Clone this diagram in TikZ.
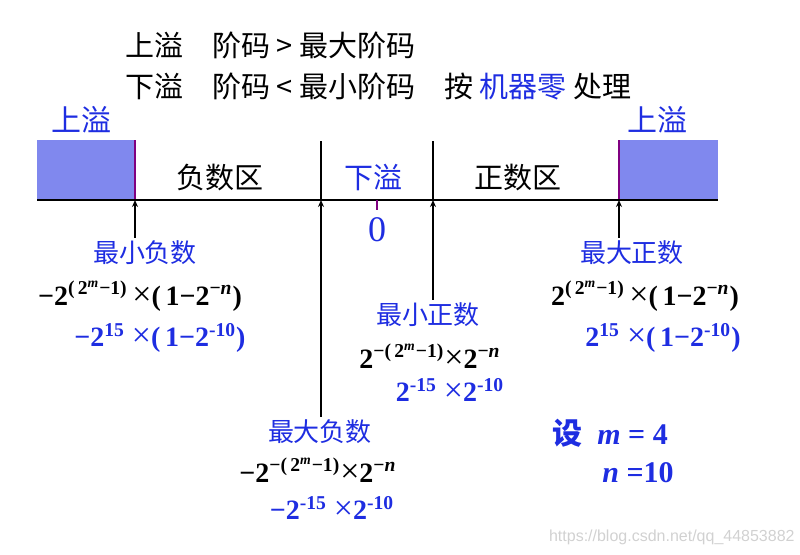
\documentclass[tikz,border=0pt]{standalone}
\usepackage{fontspec}
\setmainfont{Liberation Serif}
\newfontfamily\cjk{Noto Sans CJK SC}
\newfontfamily\wmfont{Liberation Sans}
\usetikzlibrary{arrows.meta, positioning}

\definecolor{ovblue}{RGB}{128,136,238}
\definecolor{txtblue}{RGB}{30,45,225}
\definecolor{edgepurple}{RGB}{128,0,128}

\newcommand{\up}[1]{\textsuperscript{#1}}
\newcommand{\tms}{{\mdseries\fontsize{17}{17}\selectfont ×}}

\tikzset{
    heading/.style={font=\cjk\fontsize{14.5}{16}\selectfont, anchor=west, inner sep=0pt},
    region/.style={font=\cjk\fontsize{14.5}{16}\selectfont, inner sep=0pt},
    lbl/.style={font=\cjk\fontsize{13}{15}\selectfont, text=txtblue, inner sep=0pt},
    formula/.style={font=\bfseries\fontsize{14}{16}\selectfont, inner sep=0pt},
    val/.style={formula, text=txtblue},
    tick/.style={-{Stealth[length=3.5pt, width=3pt]}, line width=1pt},
}

\begin{document}
\begin{tikzpicture}[x=0.5pt, y=-0.5pt]
        \useasboundingbox (0,0) rectangle (800,554);

        % overflow boxes
        \fill[ovblue] (37,140) rectangle (135,200);
        \fill[ovblue] (619,140) rectangle (718,200);
        \draw[edgepurple, line width=1.3pt] (135,140) -- (135,200);
        \draw[edgepurple, line width=1.3pt] (619,140) -- (619,200);

        % axis
        \coordinate (L) at (37,200);
        \coordinate (R) at (718,200);
        \coordinate (MINN) at (135,200);
        \coordinate (MAXN) at (321,200);
        \coordinate (ZERO) at (377,200);
        \coordinate (MINP) at (433,200);
        \coordinate (MAXP) at (619,200);
        \draw[line width=1pt] (L) -- (R);
        \draw[line width=1pt] (MAXN) -- ++(0,-59);
        \draw[line width=1pt] (MINP) -- ++(0,-59);
        \draw[edgepurple, line width=1.3pt] (ZERO) -- ++(0,10);

        \node[heading] (OVER) at (125,45) {上溢\quad 阶码 > 最大阶码};
        \node[heading] (UNDER) at (125,87) {下溢\quad 阶码 < 最小阶码\quad 按 \textcolor{txtblue}{机器零} 处理};

        \node[region, text=txtblue, font=\cjk\fontsize{15}{16}\selectfont] (OVL) at (82,120) {上溢};
        \node[region, text=txtblue, font=\cjk\fontsize{15}{16}\selectfont] (OVR) at (657,120) {上溢};
        \node[region] (NEG) at (220,177) {负数区};
        \node[region, text=txtblue] (UNF) at (373,177) {下溢};
        \node[region] (POS) at (518,177) {正数区};
        \node[font=\fontsize{18}{18}\selectfont, text=txtblue, inner sep=0pt] (Z) at (377,230) {0};

        % smallest negative
        \node[lbl] (MINNEG) at (145,253) {最小负数};
        \node[formula] (MINNEGF) at (140,296) {−2\up{(\,2\up{\textit{m}}−1)}\,\tms(\,1−2\up{−\textit{n}})};
        \node[val] (MINNEGV) at (160,338) {−2\up{15} \tms(\,1−2\up{-10})};

        % smallest positive
        \node[lbl] (MINPOS) at (428,315) {最小正数};
        \node[formula] (MINPOSF) at (430,356) {2\up{−(\,2\up{\textit{m}}−1)}\tms2\up{−\textit{n}}};
        \node[val] (MINPOSV) at (450,390) {2\up{-15} \tms2\up{-10}};

        % largest positive
        \node[lbl] (MAXPOS) at (632,253) {最大正数};
        \node[formula] (MAXPOSF) at (645,296) {2\up{(\,2\up{\textit{m}}−1)}\,\tms(\,1−2\up{−\textit{n}})};
        \node[val] (MAXPOSV) at (663,338) {2\up{15} \tms(\,1−2\up{-10})};

        % largest negative
        \node[lbl] (MAXNEG) at (320,432) {最大负数};
        \node[formula] (MAXNEGF) at (318,470) {−2\up{−(\,2\up{\textit{m}}−1)}\tms2\up{−\textit{n}}};
        \node[val] (MAXNEGV) at (332,508) {−2\up{-15} \tms2\up{-10}};

        \node[val, font=\bfseries\fontsize{15}{16}\selectfont, anchor=west] (SETM) at (552,433) {{\cjk 设}\ \ \textit{m} = 4};
        \node[val, font=\bfseries\fontsize{15}{16}\selectfont, anchor=west] (SETN) at (602,473) {\textit{n} =10};

        \node[font=\wmfont\fontsize{8}{9}\selectfont, text=black!18, anchor=east, inner sep=0pt] (WM) at (795,537) {https://blog.csdn.net/qq\_44853882};

        \draw[tick] (MINN |- MINNEG.north) ++(0,-3) -- (MINN);
        \draw[tick] (MAXP |- MAXPOS.north) ++(0,-3) -- (MAXP);
        \draw[tick] (MINP |- MINPOS.north) ++(0,-3) -- (MINP);
        \draw[tick] (MAXN |- MAXNEG.north) ++(0,-3) -- (MAXN);
\end{tikzpicture}
\end{document}
